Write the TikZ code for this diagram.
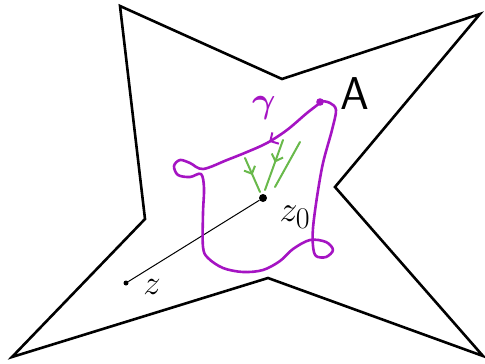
\documentclass[tikz,border=0pt]{standalone}
\usepackage{xcolor}
\usepackage{amsmath}
\usepackage{amssymb}
\usepackage{tikz}
\usetikzlibrary{arrows.meta,calc,decorations.markings,positioning}

\definecolor{loopviolet}{RGB}{165,20,195}
\definecolor{fieldgreen}{RGB}{105,185,75}

\begin{document}
\begin{tikzpicture}[x=1pt, y=-1pt]
    \tikzset{starline/.style={black, line width=2.6pt, line join=miter}}
    \tikzset{loopline/.style={loopviolet, line width=2.6pt, line cap=round, line join=round}}
    \tikzset{fieldline/.style={fieldgreen, line width=2pt, line cap=round}}
    \tikzset{bigdot/.style={circle, fill=black, minimum size=8pt, inner sep=0pt}}
    \tikzset{smalldot/.style={circle, fill=black, minimum size=5pt, inner sep=0pt}}
    \tikzset{midtip/.style={postaction={decorate}, decoration={markings,
        mark=at position #1 with {\arrow[line width=2pt]{Straight Barb[length=6pt, width=12pt]}}}}}
    \useasboundingbox (0,0) rectangle (485,364);

    % STAR OUTLINE
    \foreach \name/\x/\y in {v1/120/6, v2/282/79, v3/480/14, v4/335/187,
                             v5/483/356, v6/268/278, v7/12/357, v8/145/219} {
        \coordinate (\name) at (\x,\y);
    }
    \draw[starline] (v1)--(v2)--(v3)--(v4)--(v5)--(v6)--(v7)--(v8)--cycle;
    \node[font=\Huge\sffamily] (A) at (355,94) {\scalebox{1.85}{A}};

    % POINTS AND SEGMENT
    \node[bigdot] (z0) at (263,198) {};
    \node[smalldot] (z) at (126,283) {};
    \draw[line width=1pt] (z)--(z0);
    \node[font=\Huge] (z0lab) at (295,217) {\scalebox{1.45}{$z_{\scriptstyle 0}$}};
    \node[font=\Huge] (zlab) at (152,287) {\scalebox{1.4}{$z$}};

    % VIOLET LOOP
    \fill[loopviolet] (320,102) circle (3.8pt);
    \draw[loopline, postaction={decorate}, decoration={markings,
        mark=at position 64pt with {\arrow[line width=2pt]{Straight Barb[length=6pt, width=13pt]}}}]
        plot[smooth, tension=0.55] coordinates {
        (320,103) (307,113) (287,130) (267,143) (247,152) (227,160) (203,169)
        (190,163) (180,160) (174,166) (178,175) (190,177) (201,174) (204,188)
        (203,213) (203,247) (208,258) (223,268) (243,272) (263,270) (280,261)
        (293,249) (310,240) (326,242) (333,250) (326,257) (316,256) (313,246)
        (313,228) (317,197) (323,163) (332,130) (336,110) (330,103) (322,101)};
    \node[loopviolet, font=\Huge] (gamma) at (264,108) {\scalebox{1.45}{$\boldsymbol{\gamma}$}};

    % GREEN FIELD LINES
    \coordinate (g1a) at (245,158); \coordinate (g1b) at (260,192);
    \coordinate (g2a) at (283,140); \coordinate (g2b) at (265,190);
    \coordinate (g3a) at (300,142); \coordinate (g3b) at (275,187);
    \draw[fieldline, midtip=0.5] (g1a) -- (g1b);
    \draw[fieldline, midtip=0.45] (g2a) -- (g2b);
    \draw[fieldline] (g3a) -- (g3b);
\end{tikzpicture}
\end{document}
